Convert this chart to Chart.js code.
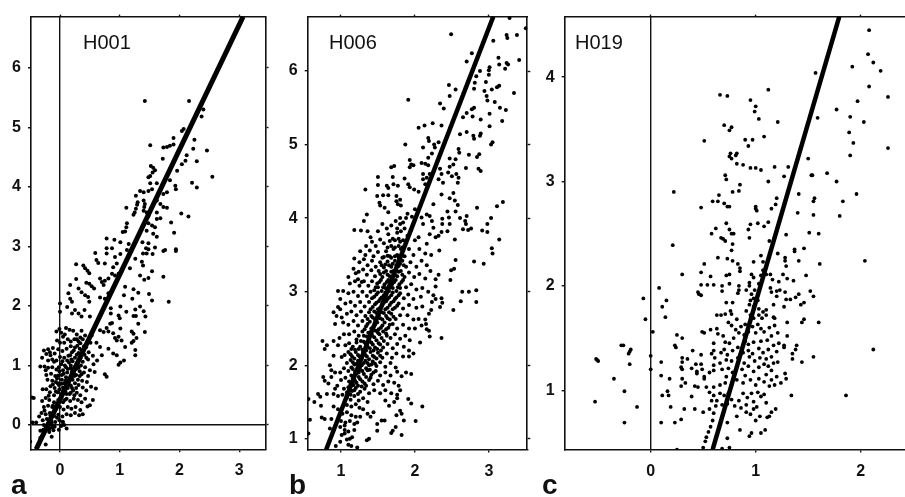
<!DOCTYPE html>
<html>
<head>
<meta charset="utf-8">
<script src="https://cdn.jsdelivr.net/npm/chart.js@4/dist/chart.umd.min.js"></script>
<style>
  html, body { margin: 0; padding: 0; background: #fff; width: 905px; height: 497px; overflow: hidden; }
  canvas { position: absolute; top: 0; filter: blur(0.4px); }
  .label { position: absolute; font-family: "Liberation Sans", Arial, sans-serif; line-height: 1; color: #111; }
  .name { font-size: 20px; top: 32px; }
  .letter { font-size: 28px; font-weight: bold; top: 471px; }
</style>
</head>
<body>
<canvas id="chart-a"></canvas>
<canvas id="chart-b"></canvas>
<canvas id="chart-c"></canvas>
<div class="label name" style="left:83px">H001</div>
<div class="label name" style="left:329px">H006</div>
<div class="label name" style="left:575px">H019</div>
<div class="label letter" style="left:11px">a</div>
<div class="label letter" style="left:289px">b</div>
<div class="label letter" style="left:542px">c</div>
<script>
// fitted lines, end to end of each frame
const h001Line = [[-0.40, -0.41], [3.065, 6.86]];
const h006Line = [[0.80, 0.854], [3.06, 6.74]];
const h019Line = [[0.59, 0.432], [1.796, 4.58]];

const h001Points = [
[1.42,5.44],[2.16,5.44],[2.37,5.18],[2.40,5.30],[2.07,4.97],[2.04,4.94],[1.90,4.82],[2.25,4.79],[1.51,4.70],[1.73,4.66],[1.79,4.67],[1.84,4.69],[1.90,4.71],[2.23,4.64],[2.46,4.61],[1.72,4.47],[2.12,4.53],[2.10,4.44],[2.29,4.43],[2.04,4.38],[2.55,4.17],[1.52,4.35],[1.56,4.32],[1.59,4.28],[1.55,4.24],[1.51,4.18],[1.48,4.16],[1.96,4.27],[1.84,4.11],[2.21,4.07],[2.29,3.99],[1.93,4.02],[1.94,3.96],[1.51,4.06],[1.62,4.06],[1.34,3.93],[1.40,3.91],[1.48,3.93],[1.54,3.96],[1.27,3.85],[1.79,3.91],[1.73,3.88],[1.30,3.74],[1.29,3.70],[1.40,3.77],[1.42,3.71],[1.41,3.66],[1.62,3.77],[1.68,3.71],[1.73,3.66],[1.79,3.65],[1.11,3.65],[1.27,3.63],[1.25,3.57],[1.23,3.53],[2.03,3.55],[2.15,3.50],[1.40,3.60],[1.45,3.57],[1.48,3.51],[1.62,3.57],[1.68,3.47],[1.62,3.46],[1.86,3.40],[1.91,3.23],[1.12,3.39],[1.11,3.32],[1.09,3.25],[1.05,3.24],[1.48,3.39],[1.54,3.35],[1.59,3.32],[1.45,3.26],[1.56,3.21],[1.62,3.16],[0.78,3.13],[0.91,3.11],[1.01,3.07],[0.78,2.97],[0.87,2.97],[1.15,3.04],[1.38,3.07],[1.48,3.05],[1.12,2.94],[1.44,2.97],[1.48,2.95],[1.59,2.98],[1.76,2.94],[1.94,2.95],
[1.73,2.92],[1.94,2.92],[0.59,2.89],[0.78,2.88],[0.61,2.77],[0.64,2.72],[0.75,2.71],[0.92,2.82],[1.01,2.87],[0.95,2.71],[0.89,2.65],[1.39,2.88],[1.45,2.88],[1.55,2.87],[1.26,2.79],[1.37,2.74],[1.39,2.68],[1.17,2.63],[0.27,2.70],[0.39,2.68],[0.42,2.63],[0.46,2.59],[0.49,2.55],[1.54,2.58],[1.34,2.51],[1.41,2.44],[1.48,2.47],[1.73,2.49],[0.27,2.45],[0.67,2.46],[0.70,2.40],[0.75,2.42],[0.81,2.46],[0.73,2.35],[0.87,2.54],[0.92,2.51],[0.98,2.54],[0.17,2.35],[0.31,2.29],[0.36,2.23],[0.44,2.39],[0.49,2.37],[0.53,2.33],[0.57,2.29],[1.09,2.32],[1.23,2.28],[1.31,2.22],[1.07,2.18],[1.21,2.12],[1.49,2.20],[1.54,2.09],[1.82,2.07],[0.14,2.21],[0.17,2.12],[0.20,2.07],[0.42,2.18],[0.47,2.15],[0.49,2.07],[0.67,2.14],[0.75,2.12],[0.81,2.21],[0.00,2.04],[0.12,1.98],[0.20,1.87],[0.00,1.90],[0.25,1.93],[0.31,1.87],[0.36,1.82],[0.41,1.93],[0.50,1.82],[1.01,1.99],[1.11,1.90],[1.26,1.94],[1.34,1.99],[1.40,1.91],[1.43,1.82],[1.23,1.83],[1.27,1.83],[1.31,1.70],[0.85,1.96],[0.85,1.87],[0.98,1.84],[1.00,1.79],
[0.87,1.71],[0.78,1.63],[0.81,1.57],[1.01,1.62],[1.20,1.57],[1.23,1.53],[1.42,1.56],[1.28,1.46],[1.23,1.41],[1.20,1.38],[1.26,1.26],[1.26,1.17],[1.09,1.31],[1.03,1.42],[0.98,1.48],[0.89,1.54],[0.92,1.46],[0.95,1.42],[0.84,1.70],[0.73,1.56],[0.67,1.59],[0.53,1.50],[0.61,1.38],[0.67,1.31],[0.70,1.17],[0.81,1.28],[0.89,1.20],[0.95,1.17],[1.07,1.08],[1.01,1.05],[0.98,1.01],[0.75,0.85],[0.78,0.81],
[-0.47,0.46],[-0.44,0.45],[-0.50,-0.28],[-0.24,-0.33],[-0.33,-0.10],[-0.46,0.04],[-0.40,0.04],[-0.14,-0.20],[0.11,-0.06],[0.04,0.05],[-0.02,-0.08],
[-0.01,1.61],[0.02,1.55],[0.05,1.48],[-0.06,1.57],[0.10,1.63],[0.16,1.60],[0.22,1.58],[0.28,1.52],[0.36,1.58],[0.42,1.50],[0.47,1.42],[0.38,1.44],[0.31,1.40],[0.24,1.44],[0.13,1.44],[0.07,1.38],[0.00,1.38],[-0.05,1.42],[-0.12,1.29],[-0.20,1.27],[-0.27,1.25],[-0.23,1.19],[-0.17,1.22],[-0.09,1.20],[-0.03,1.27],[0.04,1.24],[0.11,1.28],[0.18,1.32],[0.25,1.30],[0.33,1.28],[0.40,1.32],[0.48,1.22],[0.55,1.16],[0.62,1.08],[0.56,1.02],[0.47,1.10],[0.41,1.18],[0.34,1.12],[0.28,1.18],[0.20,1.22],[0.14,1.16],[0.07,1.13],[0.00,1.14],[-0.06,1.08],[-0.13,1.10],[-0.20,1.08],[-0.30,1.13],[-0.33,0.98],[-0.26,0.98],[-0.20,0.96],[-0.13,0.97],[-0.06,0.93],[0.02,1.02],[0.08,1.00],[0.15,1.05],[0.21,1.07],[0.28,1.03],[0.35,1.00],[0.42,0.97],[0.50,0.92],[0.58,0.89],[0.47,0.82],[0.40,0.88],[0.33,0.90],[0.27,0.94],[0.20,0.90],[0.13,0.94],[0.06,0.86],[-0.01,0.90],[-0.08,0.82],[-0.15,0.86],[-0.23,0.84],[-0.21,0.76],[-0.13,0.74],[-0.05,0.78],[0.03,0.76],[0.10,0.80],[0.17,0.78],[0.24,0.82],[0.30,0.76],[0.37,0.74],[0.45,0.72],[0.60,0.61],[0.52,0.64],[0.44,0.58],[0.38,0.63],[0.31,0.67],[0.25,0.70],[0.18,0.66],[0.12,0.68],[0.05,0.63],[-0.02,0.67],[-0.09,0.62],[-0.16,0.65],[-0.23,0.60],[-0.29,0.60],[-0.17,0.55],[-0.10,0.50],[-0.04,0.55],[0.03,0.52],[0.09,0.56],[0.16,0.52],[0.22,0.58],[0.28,0.54],[0.34,0.50],[0.42,0.44],[0.55,0.42],[0.50,0.33],[0.46,0.31],[0.36,0.38],[0.30,0.42],[0.23,0.44],[0.17,0.40],[0.11,0.44],[0.05,0.38],[-0.03,0.42],[-0.10,0.38],[-0.18,0.42],[-0.24,0.45],[-0.30,0.40],[-0.27,0.30],[-0.20,0.32],[-0.13,0.30],[-0.06,0.27],[0.00,0.30],[0.06,0.26],[0.13,0.30],[0.19,0.27],[0.26,0.30],[0.34,0.25],[0.38,0.18],[0.32,0.16],[0.25,0.20],[0.18,0.16],[0.11,0.18],[0.04,0.14],[-0.03,0.17],[-0.10,0.15],[-0.17,0.20],[-0.24,0.18],[-0.31,0.20],[-0.35,0.14],[-0.29,0.08],[-0.22,0.10],[-0.15,0.08],[-0.08,0.05],[-0.01,0.08],[0.05,0.05],[-0.27,0.00],[-0.20,0.02],[-0.14,0.00],[-0.09,-0.03],[-0.17,-0.06],[-0.11,-0.09],[-0.21,-0.04],[-0.28,-0.08],[-0.33,-0.22],[-0.18,-0.12],[0.02,-0.02],[0.07,0.00]
];

// darkest part of the H001 cloud
const h001Core = [
[0.19,1.10],[0.25,1.13],[0.31,1.21],[0.37,1.25],[0.44,1.31],[0.51,1.38],[0.12,1.08],[0.17,1.17],[0.23,1.25],[0.29,1.33],[0.34,1.37],[0.04,1.07],[0.10,0.97],[0.18,1.00],[0.24,0.97],[0.31,1.08],[0.38,1.06],[0.44,1.13],[-0.02,0.97],[0.05,0.92],[0.12,0.88],[0.18,0.95],[0.23,0.88],[0.31,0.96],[0.36,0.85],[-0.03,0.83],[0.03,0.84],[0.09,0.74],[0.15,0.72],[0.21,0.76],[0.27,0.84],[0.33,0.82],[-0.04,0.70],[0.02,0.69],[0.07,0.70],[0.13,0.62],[0.20,0.62],[0.27,0.62],[-0.07,0.56],[-0.01,0.60],[0.05,0.57],[0.11,0.52],[0.18,0.54],[0.24,0.50],[-0.12,0.32],[-0.04,0.36],[0.01,0.44],[0.08,0.42],[-0.16,0.12],[-0.10,0.21],[-0.05,0.12],[-0.22,-0.01],[-0.14,0.04],[-0.19,-0.08],[-0.13,-0.04],[-0.16,0.16],
[0.28,1.44],[0.34,1.47],[0.18,1.40],[0.08,1.52],[-0.10,1.06],[-0.16,1.17],[-0.24,0.92],[-0.12,0.68],[-0.19,0.49],[-0.26,0.24],[-0.07,0.72]
];

const h006Points = [
[2.49,6.50],[3.24,6.49],[3.25,6.45],[3.38,6.49],[3.28,6.72],[3.50,6.58],[3.06,6.41],[2.77,6.24],[2.70,6.13],[3.13,6.18],[3.14,6.09],[3.24,6.11],[3.26,6.09],[3.22,6.03],[3.41,6.15],[3.01,6.05],[3.00,6.01],[3.00,5.95],[2.88,6.00],[2.83,5.93],[2.96,5.85],[3.14,5.80],[3.11,5.78],[3.04,5.75],[2.94,5.73],[2.97,5.66],[2.98,5.60],[3.34,5.70],[2.46,5.81],[2.55,5.75],[2.47,5.66],[1.91,5.61],[2.80,5.76],[2.81,5.84],[2.34,5.56],[2.39,5.49],[3.08,5.58],[3.15,5.50],[3.23,5.47],[3.18,5.32],[3.01,5.42],[2.89,5.34],[3.01,5.25],[2.80,5.50],[2.77,5.48],[2.70,5.43],[2.65,5.37],[2.78,5.38],[2.05,5.23],[2.13,5.26],[2.24,5.29],[2.36,5.26],[2.61,5.14],[2.70,5.17],[2.89,5.15],[2.88,5.12],[2.79,5.12],[2.80,5.08],[3.05,5.03],[3.03,5.00],[1.87,5.00],[2.18,5.09],[2.19,5.05],[2.11,4.96],[2.26,5.00],[2.27,4.96],[2.32,5.03],[2.59,4.94],[2.60,4.89],[2.73,4.86],[2.87,4.87],[2.84,4.83],[2.18,4.82],[2.23,4.88],[2.09,4.75],[2.14,4.74],[2.18,4.72],[2.47,4.81],[2.55,4.80],[2.52,4.73],[2.47,4.70],[2.69,4.68],[1.93,4.79],[1.95,4.73],[1.98,4.72],[1.93,4.69],[2.86,4.67],[2.89,4.64],[1.68,4.69],[1.72,4.71],[2.11,4.60],[2.16,4.55],[2.20,4.60],[2.11,4.53],[2.14,4.46],[2.34,4.67],[2.36,4.60],[2.32,4.53],[2.38,4.48],[2.45,4.62],[2.50,4.57],[2.56,4.60],[2.59,4.55],[2.58,4.48],[1.50,4.56],[1.50,4.45],[1.70,4.56],[1.86,4.54],[1.62,4.44],[1.64,4.41],[1.71,4.46],[1.77,4.44],[1.91,4.46],[1.93,4.42],[1.99,4.39],[2.05,4.36],[1.33,4.39],[1.49,4.30],[1.57,4.31],[1.64,4.31],[1.75,4.30],[1.80,4.25],[1.75,4.23],[1.52,4.21],[1.53,4.17],[1.59,4.14],[1.64,4.08],[1.77,4.19],[1.81,4.17],[2.36,4.32],[2.52,4.34],[2.47,4.27],[2.54,4.24],[2.58,4.18],[2.25,4.19],[3.19,4.22],[3.11,4.16],[2.84,4.14],[1.35,4.05],[1.31,3.96],[1.18,3.84],[1.27,3.83],[1.36,3.82],[2.44,4.09],[2.55,4.09],[2.37,3.99],[2.46,4.01],[2.37,3.92],[2.47,3.92],[2.44,3.82],[2.36,3.81],[2.32,3.76],[2.61,4.00],[2.70,4.03],[2.68,3.96],[2.69,3.92],[2.65,3.85],[2.72,3.84],[2.76,3.86],[2.91,3.83],[2.98,3.81],[2.98,3.92],[3.03,4.00],[2.54,3.71],[3.14,3.71],[3.04,3.59],[2.16,4.05],[2.20,4.03],[2.23,3.96],[2.25,3.87],[2.09,4.01],[2.11,3.92],[2.20,3.78],[2.28,3.74],[2.16,3.65],[2.05,3.74],
[3.05,3.52],[2.80,3.41],[2.93,3.38],[2.55,3.43],[2.53,3.31],[2.49,3.29],[2.48,3.16],[2.32,3.23],[2.28,3.17],[2.28,3.07],[2.64,3.00],[2.73,3.00],[2.83,3.02],[2.83,2.86],[2.62,2.87],[2.52,2.75],[2.36,2.91],[2.37,2.85],[2.34,2.79],[2.28,2.90],[2.25,2.95],[2.23,2.86],[2.22,2.75],[2.19,2.70],[2.14,2.62],[2.05,2.63],[2.15,2.56],[2.09,2.54],[2.16,2.49],[2.19,2.47],[2.36,2.37],[2.20,2.39],[2.07,2.31],[1.95,1.88],[1.91,1.54],[1.95,1.48],[2.10,1.44],[2.01,1.24],[1.85,1.25],[1.82,1.05],[1.68,1.08],[1.70,1.11],[1.74,1.16],[1.75,1.32],[1.80,1.38],[1.82,1.34],[1.59,1.25],[1.55,1.25],[1.49,1.20],[1.49,1.11],[1.38,1.00],[1.35,0.98],[0.64,1.50],[0.73,1.45],[0.56,1.54],[0.58,1.26],[0.56,1.07],[0.69,1.61],[0.72,1.57],[0.76,1.84],[0.78,1.79],[0.83,1.75],[0.87,1.84],[0.81,1.61],[0.90,1.61],[0.74,1.29],[0.78,1.27],[0.87,1.27],[0.85,1.14],[0.99,1.16],[1.05,1.07],[1.05,1.18],[1.01,1.05],[1.12,1.00],[0.99,0.96],[1.14,0.90],[0.75,2.33],[0.81,2.27],[0.78,2.22],[0.90,2.33],[0.96,2.27],[0.90,2.13],[1.01,2.11],[0.92,1.90],[0.99,1.90],[0.87,1.93],[0.85,2.00],[0.96,3.01],[1.03,3.01],[0.99,2.90],[0.96,2.79],[0.99,2.76],[0.90,2.72],[0.94,2.67],[1.01,2.65],[0.92,2.56],[1.10,3.20],[1.20,3.25],[1.23,3.17],[1.28,3.13],
[1.47,3.62],[1.53,3.71],[1.58,3.66],[1.64,3.78],[1.70,3.72],[1.76,3.80],[1.80,3.68],[1.86,3.86],[1.90,3.76],[1.95,3.84],[2.00,3.70],[1.68,3.90],[1.74,3.96],[1.62,3.86],[1.80,4.00],[1.84,3.94],[1.90,4.06],[1.42,3.68],[1.34,3.62],[1.40,3.74],[1.50,3.82],[1.56,3.92],[1.96,4.02],[2.00,4.12],
[1.26,3.55],[1.33,3.50],[1.39,3.56],[1.44,3.48],[1.50,3.54],[1.56,3.46],[1.61,3.55],[1.66,3.48],[1.71,3.58],[1.76,3.50],[1.81,3.58],[1.86,3.48],[1.92,3.58],[1.98,3.50],[2.06,3.58],[2.14,3.52],[2.22,3.50],[2.33,3.56],[1.18,3.45],[1.25,3.40],[1.31,3.44],[1.36,3.36],[1.42,3.42],[1.47,3.34],[1.53,3.40],[1.58,3.33],[1.63,3.41],[1.68,3.34],[1.73,3.42],[1.78,3.35],[1.83,3.42],[1.88,3.34],[1.94,3.40],[2.02,3.34],[2.09,3.42],[2.16,3.36],[2.21,3.28],[1.17,3.31],[1.24,3.27],[1.30,3.30],[1.35,3.23],[1.41,3.29],[1.46,3.21],[1.51,3.28],[1.56,3.20],[1.61,3.28],[1.66,3.21],[1.71,3.28],[1.76,3.21],[1.81,3.28],[1.86,3.20],[1.92,3.26],[1.99,3.20],[2.06,3.24],[2.14,3.18],
[1.12,3.11],[1.19,3.14],[1.25,3.08],[1.31,3.14],[1.37,3.08],[1.42,3.14],[1.47,3.06],[1.52,3.13],[1.57,3.06],[1.62,3.13],[1.67,3.06],[1.72,3.13],[1.77,3.06],[1.82,3.13],[1.88,3.06],[1.95,3.10],[2.02,3.03],[2.10,3.05],[2.18,3.00],[1.10,2.98],[1.17,3.00],[1.23,2.94],[1.29,3.00],[1.35,2.94],[1.40,3.00],[1.45,2.93],[1.50,2.99],[1.55,2.92],[1.60,2.99],[1.65,2.92],[1.70,2.99],[1.75,2.92],[1.80,2.98],[1.85,2.91],[1.91,2.96],[1.98,2.90],[2.08,2.93],[1.06,2.84],[1.13,2.86],[1.19,2.81],[1.26,2.86],[1.32,2.80],[1.38,2.86],[1.43,2.79],[1.48,2.85],[1.53,2.78],[1.58,2.85],[1.63,2.78],[1.68,2.85],[1.73,2.78],[1.78,2.84],[1.84,2.77],[1.92,2.82],[2.02,2.78],[2.10,2.80],
[1.08,2.70],[1.14,2.73],[1.21,2.68],[1.27,2.73],[1.33,2.67],[1.38,2.72],[1.43,2.65],[1.48,2.71],[1.53,2.64],[1.58,2.71],[1.63,2.64],[1.68,2.70],[1.74,2.63],[1.80,2.68],[1.90,2.68],[1.98,2.62],[1.03,2.58],[1.10,2.55],[1.17,2.60],[1.23,2.54],[1.29,2.60],[1.34,2.53],[1.39,2.59],[1.44,2.52],[1.49,2.58],[1.54,2.51],[1.59,2.58],[1.64,2.51],[1.70,2.56],[1.76,2.50],[1.84,2.55],[1.92,2.50],[2.00,2.50],[1.11,2.42],[1.18,2.46],[1.24,2.40],[1.29,2.46],[1.35,2.39],[1.40,2.45],[1.45,2.38],[1.50,2.44],[1.55,2.37],[1.61,2.43],[1.67,2.37],[1.73,2.42],[1.80,2.36],[1.87,2.40],[1.93,2.34],[0.98,2.37],[1.04,2.42],
[1.06,2.27],[1.11,2.30],[1.16,2.25],[1.21,2.31],[1.26,2.25],[1.31,2.32],[1.36,2.25],[1.41,2.31],[1.46,2.24],[1.51,2.30],[1.57,2.24],[1.63,2.29],[1.70,2.23],[1.76,2.29],[1.85,2.25],[1.92,2.20],[1.98,2.16],[1.05,2.14],[1.10,2.18],[1.15,2.12],[1.20,2.18],[1.25,2.12],[1.30,2.18],[1.35,2.12],[1.40,2.18],[1.45,2.11],[1.50,2.17],[1.56,2.10],[1.62,2.16],[1.69,2.10],[1.75,2.16],[1.84,2.12],[1.92,2.12],[1.08,2.03],[1.13,2.07],[1.18,2.01],[1.23,2.06],[1.28,2.00],[1.33,2.06],[1.38,2.00],[1.43,2.05],[1.48,1.99],[1.53,2.04],[1.60,1.98],[1.67,2.03],[1.74,1.97],[1.04,1.96],[1.10,1.92],[1.16,1.95],[1.21,1.89],[1.26,1.94],[1.31,1.88],[1.36,1.93],[1.41,1.87],[1.47,1.92],[1.53,1.86],[1.60,1.90],[1.67,1.86],[1.76,1.91],[1.82,1.85],[1.88,1.90],
[1.00,1.80],[1.06,1.83],[1.11,1.78],[1.16,1.82],[1.21,1.76],[1.26,1.81],[1.32,1.75],[1.38,1.80],[1.44,1.74],[1.50,1.79],[1.57,1.73],[1.64,1.78],[1.72,1.76],[1.78,1.72],[1.04,1.68],[1.10,1.70],[1.15,1.65],[1.20,1.69],[1.26,1.64],[1.32,1.68],[1.38,1.62],[1.45,1.66],[1.53,1.62],[1.60,1.66],[1.68,1.62],[1.76,1.60],[1.80,1.66],[0.95,1.72],[0.92,1.68],[0.96,1.58],[1.02,1.60],[1.08,1.56],[1.13,1.53],[1.18,1.58],[1.24,1.52],[1.30,1.55],[1.36,1.50],[1.60,1.52],[1.72,1.50],[1.76,1.55],[1.65,1.45],[1.08,1.46],[1.14,1.44],[1.20,1.47],[1.25,1.42],[1.30,1.40],[1.36,1.34],[1.40,1.30],[1.44,1.36],[0.96,1.40],[0.90,1.44],[1.02,1.34],[1.08,1.36],[1.14,1.32],[1.20,1.30],[1.26,1.30],[1.06,1.22],[1.12,1.24],[1.18,1.20],[1.05,1.12],[1.10,1.10],[1.18,1.12],[1.22,1.22],[1.00,1.24],[1.15,1.02],[1.10,0.92],[1.22,0.88],[0.93,0.90],[1.08,0.99]
];

// solid band of the H006 cloud, filling between the points above
const h006Core = [
[1.13,1.60],[1.18,1.66],[1.08,1.63],[1.23,1.61],[1.17,1.73],[1.23,1.72],[1.13,1.74],[1.28,1.71],[1.34,1.72],[1.19,1.79],[1.24,1.84],[1.14,1.86],[1.29,1.78],[1.34,1.84],[1.40,1.83],[1.19,1.91],[1.24,1.90],[1.14,1.97],[1.29,1.92],[1.34,1.96],[1.39,1.94],[1.44,1.90],[1.21,2.02],[1.26,1.98],[1.16,2.04],[1.31,2.03],[1.36,2.03],[1.41,2.01],[1.46,2.02],[1.18,2.09],[1.23,2.14],[1.13,2.15],[1.28,2.09],[1.33,2.14],[1.38,2.08],[1.43,2.13],[1.48,2.09],[1.53,2.13],[1.19,2.21],[1.24,2.22],[1.14,2.22],[1.29,2.21],[1.34,2.20],[1.39,2.23],[1.44,2.20],[1.49,2.22],[1.54,2.20],[1.21,2.35],[1.27,2.33],[1.33,2.30],[1.38,2.35],[1.43,2.28],[1.48,2.34],[1.53,2.28],[1.58,2.33],[1.31,2.40],[1.37,2.44],[1.42,2.41],[1.47,2.47],[1.52,2.42],[1.57,2.46],[1.62,2.40],[1.32,2.49],[1.36,2.56],[1.41,2.50],[1.46,2.55],[1.51,2.49],[1.56,2.54],[1.61,2.49],[1.66,2.55],[1.36,2.63],[1.41,2.67],[1.46,2.62],[1.51,2.68],[1.56,2.62],[1.61,2.67],[1.66,2.62],[1.71,2.66],[1.40,2.76],[1.45,2.73],[1.50,2.76],[1.55,2.72],[1.60,2.76],[1.65,2.72],[1.70,2.76],[1.46,2.83],[1.51,2.87],[1.56,2.82],[1.61,2.87],[1.66,2.82],[1.71,2.87],[1.76,2.81],[1.42,2.91],[1.48,2.96],[1.53,2.90],[1.58,2.95],[1.63,2.90],[1.68,2.95],[1.73,2.90],[1.78,2.95],[1.45,3.02],[1.50,3.06],[1.55,3.01],[1.60,3.05],[1.65,3.01],[1.70,3.05],[1.75,3.01],[1.80,3.05],[1.49,3.11],[1.54,3.16],[1.59,3.10],[1.64,3.16],[1.69,3.10],[1.74,3.16],[1.79,3.10],[1.84,3.16],[1.53,3.24],[1.58,3.26],[1.63,3.23],[1.68,3.27],[1.73,3.23],[1.78,3.27],[1.83,3.23],[1.55,3.36],[1.60,3.37],[1.65,3.36],[1.70,3.38],[1.75,3.36],[1.80,3.38],[1.85,3.36],[1.58,3.47],[1.63,3.49],[1.68,3.46],[1.73,3.48],[1.78,3.46],[1.83,3.50],[1.63,3.60],[1.68,3.62],[1.73,3.60],[1.78,3.62],[1.83,3.60],[1.66,3.69],[1.73,3.70],[1.78,3.72],[1.84,3.70],[1.76,3.86],[1.81,3.82],[1.80,3.92],[1.88,4.00]
];

const h019Points = [
[2.08,4.45],[2.07,4.22],[2.12,4.14],[2.19,4.06],[1.92,4.10],[1.57,4.04],[2.08,3.91],[2.26,3.81],[1.97,3.77],[1.77,3.69],[1.90,3.62],[2.03,3.57],[1.59,3.61],[1.89,3.47],[1.93,3.37],[2.26,3.32],[1.90,3.25],[1.50,3.22],[1.68,3.08],[1.54,3.06],[1.53,3.06],[1.77,3.00],[1.41,2.88],[1.96,2.88],[1.56,2.84],[1.55,2.81],[1.83,2.81],[1.40,2.70],[1.55,2.68],[1.80,2.67],[1.51,2.51],[1.60,2.50],[1.29,2.49],[1.46,2.36],[1.37,2.35],
[1.12,3.88],[0.66,3.83],[0.73,3.82],[0.95,3.78],[1.00,3.72],[0.99,3.67],[1.03,3.60],[1.21,3.57],[0.70,3.54],[0.77,3.52],[0.75,3.49],[1.08,3.43],[0.90,3.40],[0.97,3.40],[0.51,3.39],[0.93,3.34],[0.76,3.27],[0.75,3.24],[0.77,3.22],[0.82,3.27],[0.81,3.25],[0.82,3.17],[0.88,3.16],[0.95,3.13],[1.00,3.13],[1.05,3.11],[1.18,3.14],[1.31,3.14],[1.27,3.05],[0.71,3.06],[0.72,3.02],[1.12,3.00],[0.85,2.97],[0.84,2.91],[0.78,2.90],[0.22,2.90],[0.65,2.87],[0.59,2.81],[0.64,2.81],[0.70,2.79],[0.73,2.76],[0.75,2.76],[0.48,2.75],[1.00,2.76],[1.00,2.74],[1.01,2.72],[1.15,2.74],[1.20,2.84],[1.19,2.78],[0.72,2.60],[0.95,2.59],[1.02,2.60],[1.08,2.57],[1.12,2.61],[0.62,2.55],[0.75,2.54],[0.93,2.54],[0.58,2.50],[0.77,2.50],[0.79,2.50],[0.94,2.46],[0.67,2.46],[0.69,2.45],[0.71,2.43],[0.21,2.39],[0.78,2.40],[1.13,2.43],[0.77,2.34],
[2.04,2.24],[1.61,2.21],[0.51,2.21],[0.64,2.27],[0.73,2.26],[0.78,2.24],[0.48,2.13],[0.30,2.11],[0.57,2.09],[0.83,2.21],[0.85,2.17],[0.85,2.14],[0.72,2.10],[0.75,2.11],[0.98,2.23],[1.07,2.23],[1.05,2.29],[1.21,2.31],[1.28,2.27],[1.28,2.24],[1.29,2.19],[1.37,2.33],[1.41,2.24],[1.48,2.10],[1.26,2.11],[1.30,2.07],[1.36,2.05],[1.16,2.06],[1.22,2.04],[0.48,2.01],[0.54,2.01],[0.60,2.01],[0.68,2.00],[0.68,1.95],[0.75,2.02],[0.45,1.94],[0.46,1.92],[0.48,1.91],[0.84,2.00],[0.84,1.96],[0.83,1.93],[0.08,1.98],[-0.07,1.88],[0.15,1.86],[0.11,1.80],[-0.05,1.68],[0.14,1.70],[0.02,1.56],[0.72,1.84],[0.78,1.84],[0.63,1.72],[0.67,1.72],[0.71,1.73],[0.76,1.76],[0.77,1.73],
[0.94,2.03],[0.98,2.08],[0.96,2.11],[0.94,2.00],[0.91,1.96],[0.96,1.92],[0.99,1.96],[1.03,2.02],[1.05,2.10],[1.07,2.15],[1.10,2.11],[1.14,2.11],[0.95,1.86],[0.98,1.88],[1.02,1.86],[0.94,1.82],[0.98,1.80],[1.03,1.78],[1.07,1.75],[1.10,1.77],[0.91,1.76],[0.95,1.72],[0.98,1.69],[1.03,1.72],[1.06,1.69],[1.10,1.72],[1.17,1.70],[1.14,1.98],[1.15,1.94],[1.20,1.95],[1.23,1.96],[1.20,1.90],[1.28,1.94],[1.29,1.87],[1.33,1.87],[1.41,1.92],[1.38,1.89],[1.52,1.95],[1.55,1.90],[1.46,1.84],[1.43,1.82],[1.17,1.82],[1.27,1.80],[1.18,1.69],[1.30,1.65],[1.46,1.68],[1.44,1.65],[1.60,1.65],
[0.25,1.53],[0.30,1.50],[0.23,1.43],[0.24,1.41],[0.40,1.38],[0.35,1.30],[0.30,1.31],[0.30,1.27],[0.29,1.22],[0.30,1.20],[0.48,1.34],[0.48,1.25],[0.43,1.25],[0.39,1.21],[0.44,1.18],[0.44,1.16],[0.49,1.20],[0.51,1.13],[0.51,1.11],[0.56,1.17],[0.60,1.24],[0.60,1.19],[0.42,1.04],[0.45,1.03],[0.53,1.03],[0.49,1.56],[0.51,1.55],[0.57,1.58],[0.60,1.45],[0.60,1.38],[0.58,1.35],[0.61,1.31],[0.63,1.59],[0.64,1.54],[0.69,1.52],[0.71,1.46],[0.74,1.65],[0.82,1.68],[-0.26,1.43],[-0.28,1.43],[-0.19,1.39],[-0.20,1.37],[-0.21,1.35],[-0.20,1.25],[-0.51,1.29],[-0.50,1.28],[-0.52,1.30],[-0.35,1.11],[-0.25,0.99],[-0.53,0.89],[-0.13,0.84],[-0.25,0.69],[0.00,1.33],[0.00,1.20],[0.10,1.27],[0.10,1.14],[0.18,1.11],[0.11,0.95],[0.16,0.99],[0.17,0.95],[0.19,0.84],[0.10,0.69],[0.23,0.69],[0.29,0.72],[0.32,0.82],[0.42,0.82],[0.39,0.94],[0.29,1.04],[0.30,1.11],[0.33,1.07],
[1.34,0.95],[1.86,0.95],[2.12,1.39],[1.55,1.32],[1.44,1.27],[1.35,1.30],[1.35,1.35],[1.38,1.39],[1.39,1.43],[1.30,1.52],[1.27,1.43],[1.27,1.41],[1.28,1.16],[1.29,1.11],[1.24,1.07],[1.19,0.82],[1.15,0.79],[1.13,0.75],[1.11,0.74],[1.09,0.62],[1.05,0.59],[0.96,0.59],[0.94,0.56],[0.85,0.62],[0.73,0.54],[0.73,0.69],[1.00,0.71],[1.04,0.75],[0.82,0.75],[0.91,0.79],[0.95,0.77],[0.98,0.82],[1.01,0.84],[1.10,0.88],[1.08,0.96],[0.50,0.45],[0.25,0.43],[0.68,0.44],[0.75,0.45],[0.52,0.51],[0.53,0.55],[0.55,0.60],[0.57,0.65],[0.59,0.71],[0.60,0.78],[0.50,0.79],[0.56,0.82],[0.62,0.85],
[0.77,1.62],[0.81,1.58],[0.86,1.61],[0.90,1.63],[0.84,1.55],[0.89,1.53],[0.93,1.56],[0.97,1.61],[1.02,1.63],[1.05,1.59],[1.00,1.55],[1.08,1.56],[1.13,1.60],[1.18,1.62],[1.21,1.55],[1.15,1.52],[1.11,1.48],[1.05,1.47],[0.98,1.46],[0.93,1.44],[0.90,1.47],[0.79,1.50],[0.75,1.45],[0.70,1.39],[0.67,1.36],[0.73,1.34],[0.78,1.38],[0.83,1.41],[0.88,1.36],[0.93,1.38],[0.97,1.35],[1.03,1.40],[1.07,1.36],[1.12,1.39],[1.17,1.43],[1.22,1.45],[1.20,1.37],[1.15,1.32],[1.10,1.30],[1.04,1.31],[0.99,1.28],[0.94,1.32],[0.89,1.26],[0.83,1.31],[0.77,1.28],[0.72,1.29],[0.66,1.26],[0.68,1.20],[0.74,1.21],[0.78,1.17],[0.72,1.13],[0.87,1.20],[0.93,1.23],[0.98,1.18],[1.03,1.22],[1.08,1.25],[1.12,1.23],[1.17,1.26],[1.21,1.27],[1.15,1.19],[1.10,1.15],[1.15,1.10],[1.20,1.13],[1.18,1.05],[1.13,1.04],[1.08,1.08],[1.03,1.11],[1.00,1.05],[0.95,1.10],[0.90,1.14],[0.88,1.07],[0.82,1.10],[0.77,1.05],[0.71,1.07],[0.66,1.05],[0.60,1.03],[0.56,0.98],[0.60,0.95],[0.63,0.90],[0.66,0.97],[0.70,0.95],[0.74,0.97],[0.77,0.91],[0.73,0.87],[0.80,0.85],[0.84,0.90],[0.88,0.97],[0.92,0.93],[0.96,0.97],[1.02,0.98],[1.05,0.94],[0.98,0.89],[0.91,0.86],[0.86,0.83],[0.68,0.86],[0.58,0.90]
];

const xTickStep = 1;
const yTickStep = 1;

function panelAxes(xMin, xMax, yMin, yMax, w) {
  const tick = { includeBounds: false };
  const font = { family: '"Liberation Sans", Arial, sans-serif', size: 16, weight: 'bold' };
  const frame = { color: '#111', width: 1.6 };
  const zeroLine = (ctx) => (ctx.tick && ctx.tick.value === 0 ? '#111' : 'rgba(0,0,0,0)');
  return {
    x: {
      type: 'linear', position: 'bottom', min: xMin, max: xMax,
      border: frame,
      grid: { color: zeroLine, lineWidth: 1.4, tickColor: '#111', tickWidth: 1.4, tickLength: 3 },
      ticks: { ...tick, stepSize: xTickStep, color: '#111', font, padding: 9, maxRotation: 0 },
      afterFit: (s) => { s.height = w.bottom; }
    },
    y: {
      type: 'linear', position: 'left', min: yMin, max: yMax,
      border: frame,
      grid: { color: zeroLine, lineWidth: 1.4, tickColor: '#111', tickWidth: 1.4, tickLength: 3 },
      ticks: { ...tick, stepSize: yTickStep, color: '#111', font, padding: 7 },
      afterFit: (s) => { s.width = w.left; }
    },
    x2: {
      type: 'linear', position: 'top', min: xMin, max: xMax,
      border: frame,
      grid: { drawOnChartArea: false, tickColor: '#111', tickWidth: 1.4, tickLength: 2 },
      ticks: { ...tick, stepSize: xTickStep, display: false },
      afterFit: (s) => { s.height = w.top; }
    },
    y2: {
      type: 'linear', position: 'right', min: yMin, max: yMax,
      border: frame,
      grid: { drawOnChartArea: false, tickColor: '#111', tickWidth: 1.4, tickLength: 3 },
      ticks: { ...tick, stepSize: yTickStep, display: false },
      afterFit: (s) => { s.width = w.right; }
    }
  };
}

function drawPanel(id, left, width, points, line, limits, w, dotSize, lineWidth) {
  const canvas = document.getElementById(id);
  canvas.width = width;
  canvas.height = 497;
  canvas.style.left = left + 'px';
  canvas.style.width = width + 'px';
  canvas.style.height = '497px';
  new Chart(canvas.getContext('2d'), {
    type: 'scatter',
    data: {
      datasets: [
        { data: points.map(([x, y]) => ({ x, y })), backgroundColor: '#000', pointRadius: dotSize, pointBorderWidth: 0 },
        { data: line.map(([x, y]) => ({ x, y })), showLine: true, borderColor: '#000', borderWidth: lineWidth, pointRadius: 0 }
      ]
    },
    options: {
      responsive: false,
      animation: false,
      layout: { padding: 0 },
      plugins: { legend: { display: false }, tooltip: { enabled: false } },
      scales: panelAxes(limits[0], limits[1], limits[2], limits[3], w)
    }
  });
}

drawPanel('chart-a', 0, 285, h001Points.concat(h001Core), h001Line, [-0.486, 3.44, -0.41, 6.86], { left: 31, right: 19.5, top: 15, bottom: 47.7 }, 2, 5);
drawPanel('chart-b', 278, 270, h006Points.concat(h006Core), h006Line, [0.55, 3.52, 0.854, 6.74], { left: 29.7, right: 20.7, top: 15.3, bottom: 47.5 }, 2, 4.5);
drawPanel('chart-c', 535, 400, h019Points, h019Line, [-0.819, 2.5, 0.432, 4.58], { left: 29.7, right: 21.8, top: 15.3, bottom: 47.5 }, 1.9, 4.5);
</script>
</body>
</html>
